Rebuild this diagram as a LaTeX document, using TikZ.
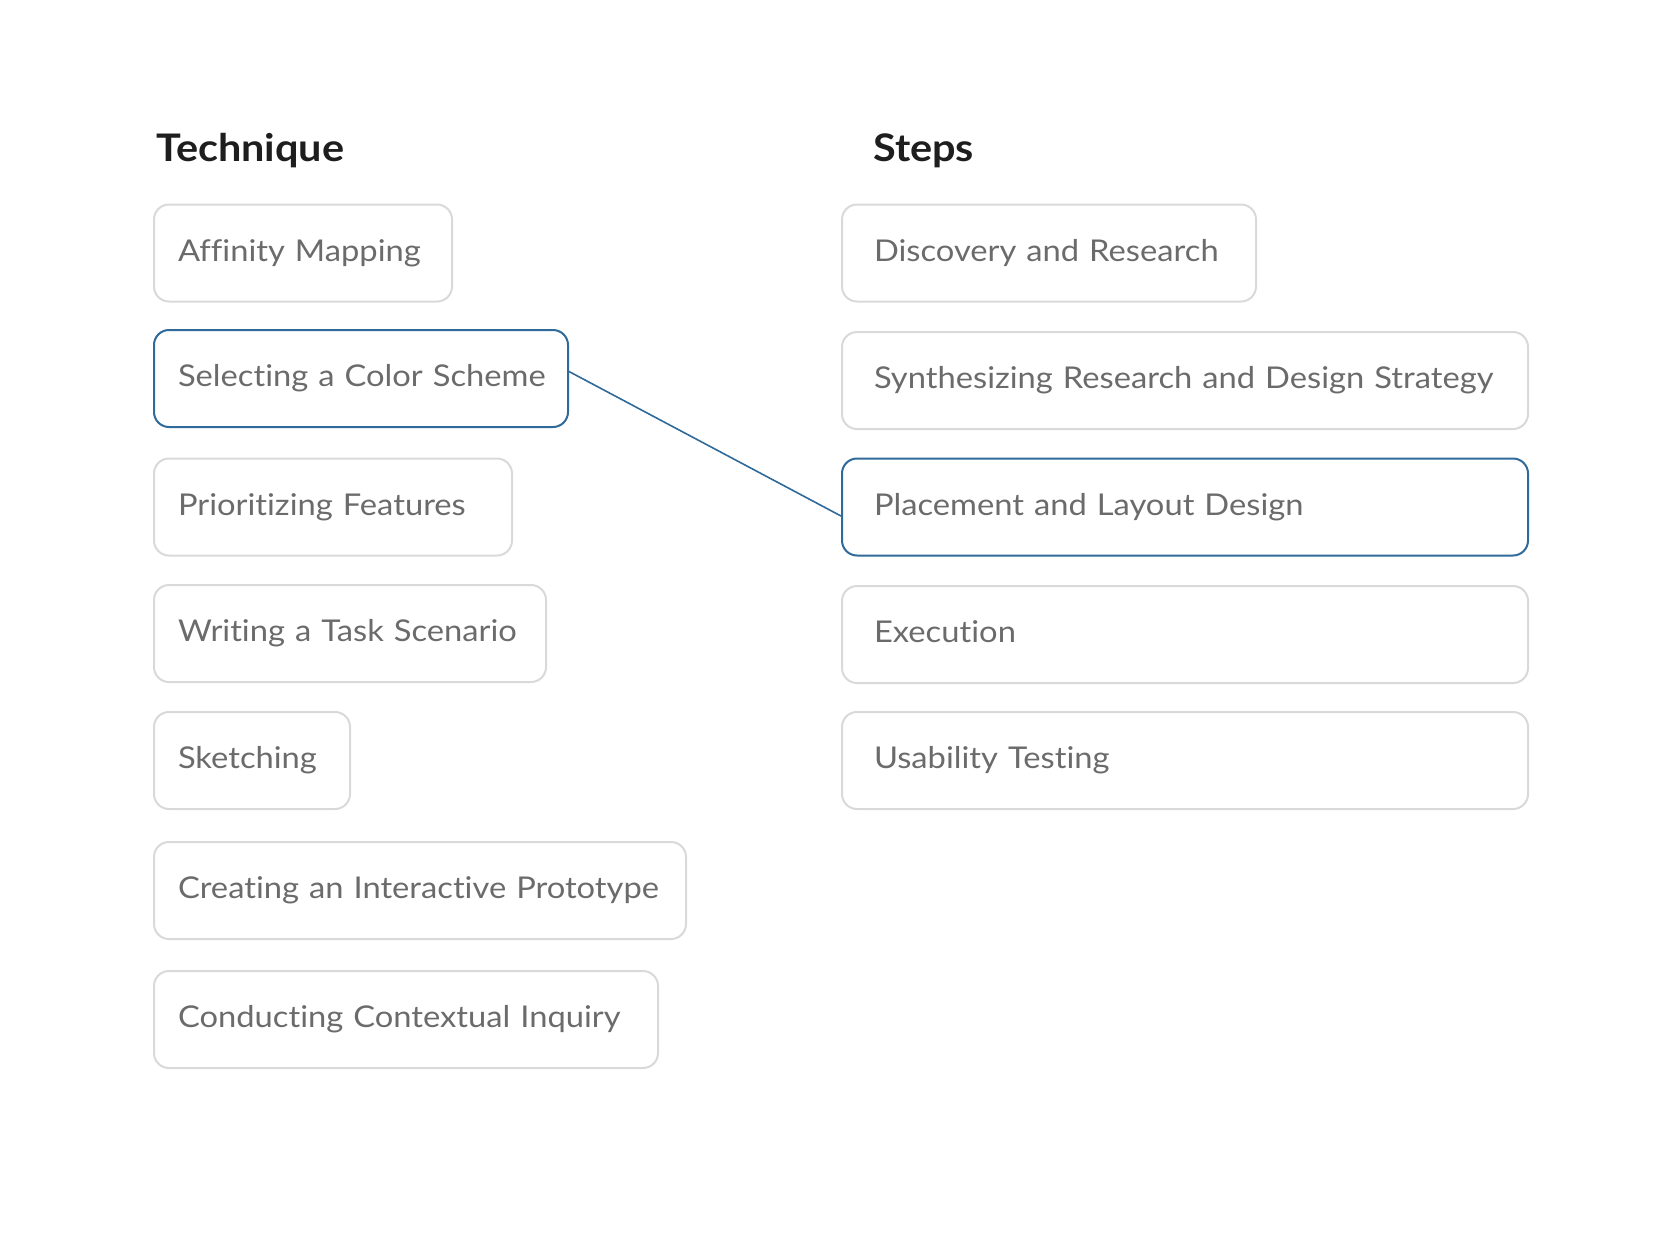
\documentclass[tikz,border=0pt]{standalone}
\usepackage{fontspec}
\setmainfont{Lato}[FakeStretch=1.09, RawFeature=-liga]
\definecolor{boxgray}{HTML}{D9D9D9}
\definecolor{selblue}{HTML}{2F6A9B}
\definecolor{txtgray}{HTML}{6B6B6B}
\definecolor{headtxt}{HTML}{1E1E1E}
\tikzset{
  box/.style={draw=boxgray, line width=2pt, rounded corners=15pt, anchor=north west,
    inner xsep=24pt, inner ysep=0pt, minimum height=97pt, text height=22pt, text depth=6pt,
    align=left, font=\fontsize{30}{36}\selectfont, text=txtgray},
  rbox/.style={box, inner xsep=32pt},
  selbox/.style={draw=selblue},
  head/.style={anchor=base west, inner sep=0pt, font=\fontsize{38}{44}\selectfont\bfseries, text=headtxt},
  link/.style={draw=selblue, line width=1.6pt}
}
\begin{document}
\begin{tikzpicture}[x=1pt,y=-1pt]
\useasboundingbox (0,0) rectangle (1680,1258);
\node[head] (th) at (156,161) {Technique};
\node[head] (sh) at (873,161) {Steps};
% left column
\node[box, text width=250pt] (aff) at (153,203.5) {\mbox{Affinity Mapping}};
\node[box, selbox, text width=366pt] (sel) at (153,329) {\mbox{Selecting a Color Scheme}};
\node[box, text width=310pt] (pri) at (153,457.5) {\mbox{Prioritizing Features}};
\node[box, text width=344pt] (wri) at (153,584) {\mbox{Writing a Task Scenario}};
\node[box, text width=148pt] (ske) at (153,711) {\mbox{Sketching}};
\node[box, text width=484pt] (cre) at (153,841) {\mbox{Creating an Interactive Prototype}};
\node[box, text width=456pt] (con) at (153,970) {\mbox{Conducting Contextual Inquiry}};
% right column
\node[rbox, text width=350pt] (dis) at (841,203.5) {\mbox{Discovery and Research}};
\node[rbox, text width=622pt] (syn) at (841,331) {\mbox{Synthesizing Research and Design Strategy}};
\node[rbox, selbox, text width=622pt] (pla) at (841,457.5) {\mbox{Placement and Layout Design}};
\node[rbox, text width=622pt] (exe) at (841,585) {\mbox{Execution}};
\node[rbox, text width=622pt] (usa) at (841,711) {\mbox{Usability Testing}};
% connector
\draw[link] ([yshift=7pt]sel.east) -- ([yshift=-9pt]pla.west);
\end{tikzpicture}
\end{document}
